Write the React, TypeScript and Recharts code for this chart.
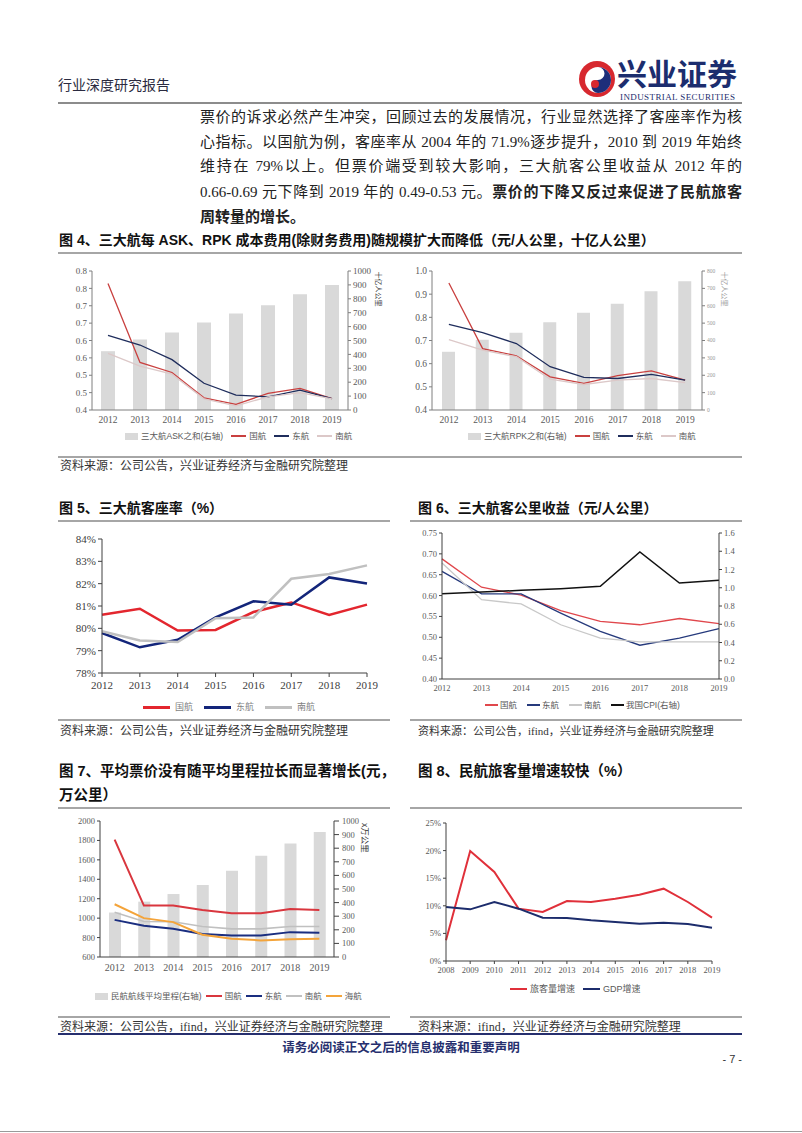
import React from 'react';
import { ComposedChart, LineChart, Line, Bar, XAxis, YAxis, Legend } from 'recharts';

// ---------- Figure 4 (left): cost per ASK ----------
const years = ['2012', '2013', '2014', '2015', '2016', '2017', '2018', '2019'];
const askSum = [423, 507, 557, 629, 694, 754, 833, 900];
const askCA = [0.764, 0.537, 0.508, 0.435, 0.416, 0.448, 0.462, 0.433];
const askEA = [0.615, 0.587, 0.545, 0.477, 0.443, 0.438, 0.457, 0.433];
const askCS = [0.563, 0.526, 0.503, 0.432, 0.412, 0.438, 0.45, 0.432];
const askLeftTicks = [0.4, 0.45, 0.5, 0.55, 0.6, 0.65, 0.7, 0.75, 0.8];
const askLeftLabels = ['0.4', '0.5', '0.5', '0.6', '0.6', '0.7', '0.7', '0.8', '0.8'];
const askRightTicks = [0, 100, 200, 300, 400, 500, 600, 700, 800, 900, 1000];

// ---------- Figure 4 (right): cost per RPK ----------
const rpkSum = [335, 404, 444, 505, 559, 612, 683, 741];
const rpkCA = [0.948, 0.665, 0.634, 0.543, 0.515, 0.548, 0.569, 0.529];
const rpkEA = [0.77, 0.734, 0.687, 0.587, 0.541, 0.536, 0.554, 0.529];
const rpkCS = [0.704, 0.658, 0.63, 0.533, 0.51, 0.529, 0.536, 0.518];
const rpkLeftTicks = [0.4, 0.5, 0.6, 0.7, 0.8, 0.9, 1.0];
const rpkRightTicks = [0, 100, 200, 300, 400, 500, 600, 700, 800];

// ---------- Figure 5: load factor ----------
const yearNums = [2012, 2013, 2014, 2015, 2016, 2017, 2018, 2019];
const loadCA = [80.61, 80.88, 79.9, 79.93, 80.73, 81.16, 80.6, 81.06];
const loadEA = [79.79, 79.15, 79.49, 80.49, 81.21, 81.06, 82.28, 82.01];
const loadCS = [79.87, 79.46, 79.39, 80.45, 80.49, 82.22, 82.43, 82.82];
const loadTicks = [78, 79, 80, 81, 82, 83, 84];

// ---------- Figure 6: yield ----------
const yieldCA = [0.688, 0.62, 0.601, 0.564, 0.538, 0.53, 0.545, 0.533];
const yieldEA = [0.658, 0.604, 0.604, 0.558, 0.514, 0.481, 0.498, 0.521];
const yieldCS = [0.678, 0.59, 0.58, 0.53, 0.498, 0.489, 0.489, 0.489];
const cpi = [0.935, 0.953, 0.972, 0.99, 1.016, 1.392, 1.052, 1.081];
const yieldLeftTicks = [0.4, 0.45, 0.5, 0.55, 0.6, 0.65, 0.7, 0.75];
const yieldRightTicks = [0, 0.2, 0.4, 0.6, 0.8, 1.0, 1.2, 1.4, 1.6];

// ---------- Figure 7: average fare ----------
const avgDistance = [327, 407, 463, 529, 634, 744, 834, 920];
const fareCA = [1809, 1129, 1129, 1085, 1051, 1051, 1095, 1085];
const fareEA = [982, 921, 890, 836, 822, 822, 856, 849];
const fareCS = [1061, 965, 963, 914, 890, 890, 914, 914];
const fareHU = [1143, 1000, 959, 829, 788, 771, 784, 788];
const fareLeftTicks = [600, 800, 1000, 1200, 1400, 1600, 1800, 2000];
const fareRightTicks = [0, 100, 200, 300, 400, 500, 600, 700, 800, 900, 1000];

// ---------- Figure 8: growth ----------
const growthYears = [2008, 2009, 2010, 2011, 2012, 2013, 2014, 2015, 2016, 2017, 2018, 2019];
const paxGrowth = [3.74, 19.93, 16.12, 9.48, 8.88, 10.87, 10.69, 11.29, 12.02, 13.1, 10.69, 7.85];
const gdpGrowth = [9.78, 9.36, 10.69, 9.48, 7.85, 7.8, 7.37, 7.07, 6.76, 6.95, 6.7, 6.04];
const growthTicks = [0, 5, 10, 15, 20, 25];

const SERIF = '"Liberation Serif", "Noto Sans CJK SC", serif';
const SANS = '"Liberation Sans", "Noto Sans CJK SC", sans-serif';

const fig4aData = years.map((y, i) => ({ year: y, sum: askSum[i], ca: askCA[i], ea: askEA[i], cs: askCS[i] }));
const fig4bData = years.map((y, i) => ({ year: y, sum: rpkSum[i], ca: rpkCA[i], ea: rpkEA[i], cs: rpkCS[i] }));
const fig5Data = yearNums.map((y, i) => ({ year: y, ca: loadCA[i], ea: loadEA[i], cs: loadCS[i] }));
const fig6Data = years.map((y, i) => ({ year: y, ca: yieldCA[i], ea: yieldEA[i], cs: yieldCS[i], cpi: cpi[i] }));
const fig7Data = years.map((y, i) => ({ year: y, dist: avgDistance[i], ca: fareCA[i], ea: fareEA[i], cs: fareCS[i], hu: fareHU[i] }));
const fig8Data = growthYears.map((y, i) => ({ year: y, pax: paxGrowth[i], gdp: gdpGrowth[i] }));

type LegItem = { label: string; color: string; kind: 'line' | 'rect' };

function LegendRow(props: { items: LegItem[]; fontSize: number; iconW: number; iconH: number; gap: number; textGap: number; color: string; family?: string }) {
  const { items, fontSize, iconW, iconH, gap, textGap, color, family } = props;
  return (
    <div style={{ display: 'flex', alignItems: 'center', whiteSpace: 'nowrap', fontSize, color, fontFamily: family || SANS, lineHeight: '14px' }}>
      {items.map((it, i) => (
        <div key={i} style={{ display: 'flex', alignItems: 'center', marginRight: gap }}>
          <span style={{ display: 'inline-block', width: it.kind === 'rect' ? 13 : iconW, height: it.kind === 'rect' ? 7 : iconH, background: it.color, marginRight: textGap }} />
          <span>{it.label}</span>
        </div>
      ))}
    </div>
  );
}

function Txt(props: { x: number; y: number; size: number; children: React.ReactNode; weight?: number; color?: string; family?: string; width?: number; justify?: boolean; center?: boolean; right?: boolean; lh?: number; ls?: number }) {
  const lh = props.lh || Math.round(props.size * 1.4);
  const style: React.CSSProperties = {
    position: 'absolute',
    top: props.y - lh / 2,
    fontSize: props.size,
    lineHeight: lh + 'px',
    fontWeight: props.weight || 400,
    color: props.color || '#222',
    fontFamily: props.family || SERIF,
    whiteSpace: 'nowrap',
    letterSpacing: props.ls || 0,
  };
  if (props.center) {
    style.left = props.x;
    style.transform = 'translateX(-50%)';
  } else if (props.right) {
    style.right = 802 - props.x;
  } else {
    style.left = props.x;
  }
  if (props.justify && props.width) {
    style.width = props.width;
    style.textAlign = 'justify';
    style.textAlignLast = 'justify';
  }
  return <div style={style}>{props.children}</div>;
}

function HLine(props: { x: number; y: number; w: number; h?: number; color?: string }) {
  return <div style={{ position: 'absolute', left: props.x, top: props.y, width: props.w, height: props.h || 2, background: props.color || '#a6a6a6' }} />;
}

function RotLabel(props: { x: number; y: number; size: number; text: string; color?: string }) {
  return (
    <div style={{ position: 'absolute', left: props.x, top: props.y, transform: 'translate(-50%,-50%) rotate(90deg)', fontSize: props.size, color: props.color || '#333', fontFamily: SANS, whiteSpace: 'nowrap', lineHeight: '1' }}>
      {props.text}
    </div>
  );
}

const axisGray = '#7f7f7f';

function Fig4a() {
  const tick = { fontSize: 9, fill: '#595959', fontFamily: SERIF };
  const items: LegItem[] = [
    { label: '三大航ASK之和(右轴)', color: '#d9d9d9', kind: 'rect' },
    { label: '国航', color: '#c9403f', kind: 'line' },
    { label: '东航', color: '#1f2d5c', kind: 'line' },
    { label: '南航', color: '#dcc8c8', kind: 'line' },
  ];
  return (
    <div style={{ position: 'absolute', left: 60, top: 258 }}>
      <ComposedChart width={330} height={190} data={fig4aData} margin={{ top: 13, right: 12, bottom: 20, left: 0 }}>
        <XAxis dataKey="year" tick={{ ...tick, fontSize: 9.5 }} tickLine={false} tickSize={3} tickMargin={3} height={18} stroke={axisGray} />
        <YAxis yAxisId="left" width={32} domain={[0.4, 0.8]} ticks={askLeftTicks} interval={0} tick={tick} tickSize={3} stroke={axisGray}
          tickFormatter={(v: number) => askLeftLabels[Math.round((v - 0.4) / 0.05)]} />
        <YAxis yAxisId="right" orientation="right" width={30} domain={[0, 1000]} ticks={askRightTicks} interval={0} tick={tick} tickSize={3} stroke={axisGray} />
        <Bar yAxisId="right" dataKey="sum" fill="#d9d9d9" barSize={14} isAnimationActive={false} />
        <Line yAxisId="left" type="linear" dataKey="ca" stroke="#c9403f" strokeWidth={1.3} dot={false} isAnimationActive={false} />
        <Line yAxisId="left" type="linear" dataKey="ea" stroke="#1f2d5c" strokeWidth={1.3} dot={false} isAnimationActive={false} />
        <Line yAxisId="left" type="linear" dataKey="cs" stroke="#dcc8c8" strokeWidth={1.3} dot={false} isAnimationActive={false} />
        <Legend verticalAlign="middle" align="center" layout="horizontal" wrapperStyle={{ top: 171, left: 65, width: 'auto' }}
          content={() => <LegendRow items={items} fontSize={8.5} iconW={15} iconH={1.5} gap={8} textGap={3} color="#595959" />} />
      </ComposedChart>
    </div>
  );
}

function Fig4b() {
  const tick = { fontSize: 9.5, fill: '#595959', fontFamily: SERIF };
  const items: LegItem[] = [
    { label: '三大航RPK之和(右轴)', color: '#d9d9d9', kind: 'rect' },
    { label: '国航', color: '#c9403f', kind: 'line' },
    { label: '东航', color: '#1f2d5c', kind: 'line' },
    { label: '南航', color: '#dcc8c8', kind: 'line' },
  ];
  return (
    <div style={{ position: 'absolute', left: 400, top: 258 }}>
      <ComposedChart width={330} height={190} data={fig4bData} margin={{ top: 13, right: 6, bottom: 20, left: 0 }}>
        <XAxis dataKey="year" tick={tick} tickLine={false} tickSize={3} tickMargin={3} height={18} stroke={axisGray} />
        <YAxis yAxisId="left" width={32} domain={[0.4, 1.0]} ticks={rpkLeftTicks} interval={0} tick={tick} tickSize={3} stroke={axisGray}
          tickFormatter={(v: number) => v.toFixed(1)} />
        <YAxis yAxisId="right" orientation="right" width={22} domain={[0, 800]} ticks={rpkRightTicks} interval={0}
          tick={{ fontSize: 5.5, fill: '#9a9a9a', fontFamily: SERIF }} tickSize={3} stroke={axisGray} />
        <Bar yAxisId="right" dataKey="sum" fill="#d9d9d9" barSize={13} isAnimationActive={false} />
        <Line yAxisId="left" type="linear" dataKey="ca" stroke="#c9403f" strokeWidth={1.3} dot={false} isAnimationActive={false} />
        <Line yAxisId="left" type="linear" dataKey="ea" stroke="#1f2d5c" strokeWidth={1.3} dot={false} isAnimationActive={false} />
        <Line yAxisId="left" type="linear" dataKey="cs" stroke="#dcc8c8" strokeWidth={1.3} dot={false} isAnimationActive={false} />
        <Legend verticalAlign="middle" align="center" layout="horizontal" wrapperStyle={{ top: 171, left: 68, width: 'auto' }}
          content={() => <LegendRow items={items} fontSize={8.5} iconW={15} iconH={1.5} gap={8} textGap={3} color="#595959" />} />
      </ComposedChart>
    </div>
  );
}

function Fig5() {
  const tick = { fontSize: 11, fill: '#404040', fontFamily: SERIF };
  const items: LegItem[] = [
    { label: '国航', color: '#e3262e', kind: 'line' },
    { label: '东航', color: '#13257a', kind: 'line' },
    { label: '南航', color: '#c0c0c0', kind: 'line' },
  ];
  return (
    <div style={{ position: 'absolute', left: 60, top: 528 }}>
      <LineChart width={330} height={195} data={fig5Data} margin={{ top: 11, right: 23, bottom: 30, left: 0 }}>
        <XAxis dataKey="year" type="number" domain={[2012, 2019]} ticks={yearNums} interval={0} tick={tick} tickSize={4} tickMargin={4} height={20} stroke="#404040" />
        <YAxis width={42} domain={[78, 84]} ticks={loadTicks} interval={0} tick={tick} tickSize={4} stroke="#404040" tickFormatter={(v: number) => v + '%'} />
        <Line type="linear" dataKey="ca" stroke="#e3262e" strokeWidth={2.5} dot={false} isAnimationActive={false} />
        <Line type="linear" dataKey="ea" stroke="#13257a" strokeWidth={2.5} dot={false} isAnimationActive={false} />
        <Line type="linear" dataKey="cs" stroke="#c0c0c0" strokeWidth={2.5} dot={false} isAnimationActive={false} />
        <Legend verticalAlign="middle" align="center" layout="horizontal" wrapperStyle={{ top: 172, left: 83, width: 'auto' }}
          content={() => <LegendRow items={items} fontSize={9} iconW={27} iconH={3} gap={11} textGap={5} color="#7f7f7f" />} />
      </LineChart>
    </div>
  );
}

function Fig6() {
  const tick = { fontSize: 8.5, fill: '#595959', fontFamily: SERIF };
  const items: LegItem[] = [
    { label: '国航', color: '#e0474c', kind: 'line' },
    { label: '东航', color: '#263a7c', kind: 'line' },
    { label: '南航', color: '#c8c8c8', kind: 'line' },
    { label: '我国CPI(右轴)', color: '#111111', kind: 'line' },
  ];
  return (
    <div style={{ position: 'absolute', left: 410, top: 527 }}>
      <ComposedChart width={330} height={190} data={fig6Data} margin={{ top: 6, right: 0, bottom: 18, left: 0 }}>
        <XAxis dataKey="year" tick={tick} tickLine={false} tickSize={3} tickMargin={3} height={20} stroke="#404040" />
        <YAxis yAxisId="left" width={32} domain={[0.4, 0.75]} ticks={yieldLeftTicks} interval={0} tick={tick} tickSize={3} stroke="#404040"
          tickFormatter={(v: number) => v.toFixed(2)} />
        <YAxis yAxisId="right" orientation="right" width={21} domain={[0, 1.6]} ticks={yieldRightTicks} interval={0} tick={tick} tickSize={3} stroke="#404040"
          tickFormatter={(v: number) => v.toFixed(1)} />
        <Line yAxisId="left" type="linear" dataKey="ca" stroke="#e0474c" strokeWidth={1.3} dot={false} isAnimationActive={false} />
        <Line yAxisId="left" type="linear" dataKey="ea" stroke="#263a7c" strokeWidth={1.3} dot={false} isAnimationActive={false} />
        <Line yAxisId="left" type="linear" dataKey="cs" stroke="#c8c8c8" strokeWidth={1.3} dot={false} isAnimationActive={false} />
        <Line yAxisId="right" type="linear" dataKey="cpi" stroke="#111111" strokeWidth={1.5} dot={false} isAnimationActive={false} />
        <Legend verticalAlign="middle" align="center" layout="horizontal" wrapperStyle={{ top: 171, left: 75, width: 'auto' }}
          content={() => <LegendRow items={items} fontSize={8.5} iconW={13} iconH={1.5} gap={10} textGap={2} color="#595959" />} />
      </ComposedChart>
    </div>
  );
}

function Fig7() {
  const tick = { fontSize: 8.5, fill: '#595959', fontFamily: SERIF };
  const items: LegItem[] = [
    { label: '民航航线平均里程(右轴)', color: '#d9d9d9', kind: 'rect' },
    { label: '国航', color: '#d9363e', kind: 'line' },
    { label: '东航', color: '#1a2e80', kind: 'line' },
    { label: '南航', color: '#c0c0c0', kind: 'line' },
    { label: '海航', color: '#f4a43a', kind: 'line' },
  ];
  return (
    <div style={{ position: 'absolute', left: 60, top: 812 }}>
      <ComposedChart width={330} height={195} data={fig7Data} margin={{ top: 9, right: 26, bottom: 30, left: 0 }}>
        <XAxis dataKey="year" tick={{ ...tick, fontSize: 10 }} tickLine={false} tickSize={3} tickMargin={4} height={20} stroke="#404040" />
        <YAxis yAxisId="left" width={40} domain={[600, 2000]} ticks={fareLeftTicks} interval={0} tick={tick} tickSize={3} stroke="#404040" />
        <YAxis yAxisId="right" orientation="right" width={30} domain={[0, 1000]} ticks={fareRightTicks} interval={0} tick={tick} tickSize={5} tickMargin={3} stroke="#404040" />
        <Bar yAxisId="right" dataKey="dist" fill="#d9d9d9" barSize={12} isAnimationActive={false} />
        <Line yAxisId="left" type="linear" dataKey="ca" stroke="#d9363e" strokeWidth={2} dot={false} isAnimationActive={false} />
        <Line yAxisId="left" type="linear" dataKey="ea" stroke="#1a2e80" strokeWidth={2} dot={false} isAnimationActive={false} />
        <Line yAxisId="left" type="linear" dataKey="cs" stroke="#c0c0c0" strokeWidth={1.6} dot={false} isAnimationActive={false} />
        <Line yAxisId="left" type="linear" dataKey="hu" stroke="#f4a43a" strokeWidth={2} dot={false} isAnimationActive={false} />
        <Legend verticalAlign="middle" align="center" layout="horizontal" wrapperStyle={{ top: 177, left: 35, width: 'auto' }}
          content={() => <LegendRow items={items} fontSize={8.5} iconW={16} iconH={2} gap={4} textGap={3} color="#595959" />} />
      </ComposedChart>
    </div>
  );
}

function Fig8() {
  const tick = { fontSize: 8.5, fill: '#595959', fontFamily: SERIF };
  const items: LegItem[] = [
    { label: '旅客量增速', color: '#e0303a', kind: 'line' },
    { label: 'GDP增速', color: '#1c2c6c', kind: 'line' },
  ];
  return (
    <div style={{ position: 'absolute', left: 410, top: 812 }}>
      <LineChart width={330} height={190} data={fig8Data} margin={{ top: 11, right: 28, bottom: 21, left: 0 }}>
        <XAxis dataKey="year" type="number" domain={[2008, 2019]} ticks={growthYears} interval={0} tick={tick} tickSize={3} tickMargin={3} height={20} stroke="#404040" />
        <YAxis width={36} domain={[0, 25]} ticks={growthTicks} interval={0} tick={tick} tickSize={3} stroke="#404040" tickFormatter={(v: number) => v + '%'} />
        <Line type="linear" dataKey="pax" stroke="#e0303a" strokeWidth={2} dot={false} isAnimationActive={false} />
        <Line type="linear" dataKey="gdp" stroke="#1c2c6c" strokeWidth={2} dot={false} isAnimationActive={false} />
        <Legend verticalAlign="middle" align="center" layout="horizontal" wrapperStyle={{ top: 170, left: 100, width: 'auto' }}
          content={() => <LegendRow items={items} fontSize={9} iconW={17} iconH={2} gap={8} textGap={3} color="#595959" />} />
      </LineChart>
    </div>
  );
}

function Logo() {
  return (
    <svg width={40} height={40} viewBox="0 0 40 40" style={{ position: 'absolute', left: 577, top: 59 }}>
      <circle cx={20} cy={20} r={18} fill="#d7282f" />
      <circle cx={21} cy={21} r={13} fill="#ffffff" />
      <path d="M21 8 A13 13 0 0 1 21 34 A6.5 6.5 0 0 1 21 21 A6.5 6.5 0 0 0 21 8 Z" fill="#1d2e7a" />
      <circle cx={18} cy={25} r={4} fill="#d7282f" />
    </svg>
  );
}

export default function App() {
  const bodyX = 200;
  const bodyW = 542;
  return (
    <div style={{ position: 'absolute', left: 0, top: 0, width: 802, height: 1133, background: '#ffffff', overflow: 'hidden' }}>
      {/* header */}
      <Txt x={58} y={86} size={14} color="#2a2a40">行业深度研究报告</Txt>
      <Logo />
      <Txt x={617} y={75} size={30} weight={700} color="#1c2d6e" family={SANS} lh={34}>兴业证券</Txt>
      <Txt x={620} y={97} size={9} color="#1c2d6e" family={SERIF} lh={10} ls={0.4}>INDUSTRIAL SECURITIES</Txt>
      <HLine x={58} y={102} w={684} h={2} color="#8c8c8c" />

      {/* body */}
      <Txt x={bodyX} y={117} size={15} width={bodyW} justify>票价的诉求必然产生冲突，回顾过去的发展情况，行业显然选择了客座率作为核</Txt>
      <Txt x={bodyX} y={142} size={15} width={bodyW} justify>心指标。以国航为例，客座率从 2004 年的 71.9%逐步提升，2010 到 2019 年始终</Txt>
      <Txt x={bodyX} y={166} size={15} width={bodyW} justify>维持在 79%以上。但票价端受到较大影响，三大航客公里收益从 2012 年的</Txt>
      <Txt x={bodyX} y={191} size={15} width={bodyW} justify>
        0.66-0.69 元下降到 2019 年的 0.49-0.53 元。<span style={{ fontWeight: 700, fontFamily: SANS }}>票价的下降又反过来促进了民航旅客</span>
      </Txt>
      <Txt x={bodyX} y={216} size={15} weight={700} family={SANS}>周转量的增长。</Txt>

      {/* Figure 4 */}
      <Txt x={59} y={240} size={14} weight={700} family={SANS} color="#111">图 4、三大航每 ASK、RPK 成本费用(除财务费用)随规模扩大而降低（元/人公里，十亿人公里）</Txt>
      <HLine x={58} y={252} w={684} />
      <Fig4a />
      <RotLabel x={378} y={289} size={7} text="十亿人公里" color="#333" />
      <Fig4b />
      <RotLabel x={724} y={289} size={7} text="十亿人公里" color="#999" />
      <HLine x={58} y={456} w={684} />
      <Txt x={60} y={466} size={12} color="#333">资料来源：公司公告，兴业证券经济与金融研究院整理</Txt>

      {/* Figures 5, 6 */}
      <Txt x={59} y={508} size={14} weight={700} family={SANS} color="#111">图 5、三大航客座率（%）</Txt>
      <Txt x={418} y={508} size={14} weight={700} family={SANS} color="#111">图 6、三大航客公里收益（元/人公里）</Txt>
      <HLine x={58} y={520} w={332} />
      <HLine x={410} y={520} w={332} />
      <Fig5 />
      <Fig6 />
      <HLine x={58} y={719} w={332} />
      <HLine x={410} y={719} w={332} />
      <Txt x={60} y={731} size={12} color="#333">资料来源：公司公告，兴业证券经济与金融研究院整理</Txt>
      <Txt x={418} y={731} size={11} color="#333">资料来源：公司公告，ifind，兴业证券经济与金融研究院整理</Txt>

      {/* Figures 7, 8 */}
      <Txt x={59} y={771} size={14.5} weight={700} family={SANS} color="#111">图 7、平均票价没有随平均里程拉长而显著增长(元，</Txt>
      <Txt x={59} y={795} size={14.5} weight={700} family={SANS} color="#111">万公里）</Txt>
      <Txt x={418} y={771} size={14.5} weight={700} family={SANS} color="#111">图 8、民航旅客量增速较快（%）</Txt>
      <HLine x={58} y={807} w={332} />
      <HLine x={410} y={807} w={332} />
      <Fig7 />
      <RotLabel x={365} y={838} size={8.5} text="x万公里" color="#333" />
      <Fig8 />
      <HLine x={58} y={1016} w={332} />
      <HLine x={410} y={1016} w={332} />
      <Txt x={60} y={1027} size={12} color="#333">资料来源：公司公告，ifind，兴业证券经济与金融研究院整理</Txt>
      <Txt x={418} y={1027} size={12} color="#333">资料来源：ifind，兴业证券经济与金融研究院整理</Txt>

      {/* footer */}
      <HLine x={58} y={1033} w={684} h={2} color="#262f6e" />
      <Txt x={401} y={1048} size={12.5} weight={700} family={SANS} color="#262f6e" center>请务必阅读正文之后的信息披露和重要声明</Txt>
      <Txt x={742} y={1059} size={11} color="#333" family={SANS} right>- 7 -</Txt>
      <HLine x={0} y={1131} w={802} h={1} color="#9a9a9a" />
    </div>
  );
}
